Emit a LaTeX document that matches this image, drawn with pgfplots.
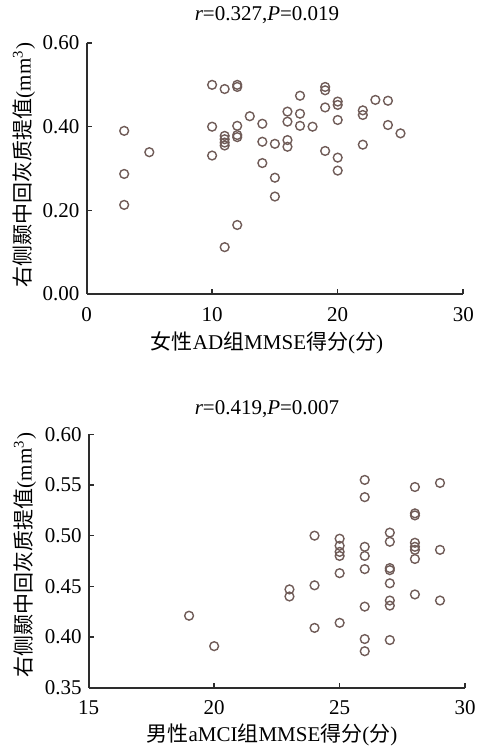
\documentclass[border=0pt]{standalone}
\usepackage{pgfplots}
\pgfplotsset{compat=1.18}
\usepackage{pgfplotstable}
\usepackage{fontspec}
\setmainfont{Liberation Serif}
\newfontfamily\cjk{Noto Sans CJK SC}
\definecolor{mk}{RGB}{112,92,88}
\definecolor{ax}{RGB}{45,45,45}
\pgfplotstableread{
x y
3 0.390
3 0.287
3 0.213
5 0.339
10 0.500
10 0.400
10 0.331
11 0.490
11 0.378
11 0.370
11 0.362
11 0.355
11 0.112
12 0.500
12 0.495
12 0.402
12 0.380
12 0.375
12 0.165
13 0.425
14 0.407
14 0.364
14 0.313
15 0.359
15 0.278
15 0.233
16 0.436
16 0.412
16 0.368
16 0.352
17 0.474
17 0.431
17 0.402
18 0.400
19 0.495
19 0.487
19 0.446
19 0.342
20 0.460
20 0.452
20 0.416
20 0.326
20 0.295
22 0.439
22 0.428
22 0.357
23 0.464
24 0.462
24 0.404
25 0.384
}\femaleAD
\pgfplotstableread{
x y
19 0.421
20 0.391
23 0.447
23 0.440
24 0.500
24 0.451
24 0.409
25 0.497
25 0.490
25 0.484
25 0.480
25 0.463
25 0.414
26 0.555
26 0.538
26 0.489
26 0.480
26 0.467
26 0.430
26 0.398
26 0.386
27 0.503
27 0.494
27 0.468
27 0.466
27 0.453
27 0.436
27 0.431
27 0.397
28 0.548
28 0.522
28 0.520
28 0.493
28 0.489
28 0.486
28 0.477
28 0.442
29 0.552
29 0.486
29 0.436
}\maleaMCI
\pgfplotsset{
  myax/.style={
    scale only axis,
    anchor=south west,
    axis lines=left,
    axis line style={-, line width=1pt, color=ax},
    tick align=inside,
    major tick length=2.6pt,
    tick style={line width=0.8pt, color=ax},
    tick label style={font=\fontsize{10.5}{12}\selectfont},
    /pgf/number format/assume math mode=true,
    yticklabel style={/pgf/number format/fixed, /pgf/number format/fixed zerofill, /pgf/number format/precision=2},
    xticklabel style={/pgf/number format/fixed, yshift=-3pt},
    clip=false,
  },
  mymk/.style={only marks, mark=o, mark size=2.2pt, mark options={line width=0.7pt, color=mk}},
}
\begin{document}
\begin{tikzpicture}[x=1pt,y=1pt]
\path[use as bounding box] (0pt,0pt) rectangle (238.5pt,373pt);
\begin{axis}[myax, at={(43.25pt,226pt)}, width=188.4pt, height=125.5pt,
  xmin=0, xmax=30, ymin=0, ymax=0.6,
  xtick={0,10,20,30}, ytick={0,0.2,0.4,0.6}]
\addplot[mymk] table[x=x,y=y] {\femaleAD};
\end{axis}
\begin{axis}[myax, at={(44.35pt,29.15pt)}, width=188.2pt, height=126.7pt,
  xmin=15, xmax=30, ymin=0.35, ymax=0.6,
  xtick={15,20,25,30}, ytick={0.35,0.40,0.45,0.50,0.55,0.60}]
\addplot[mymk] table[x=x,y=y] {\maleaMCI};
\end{axis}
\node[font=\fontsize{10.5}{12}\selectfont] at (133.5pt,365.5pt) {\textit{r}=0.327,\textit{P}=0.019};
\node[font=\fontsize{10.5}{12}\selectfont] at (133.5pt,201.5pt) {{\cjk 女性}AD{\cjk 组}MMSE{\cjk 得分}({\cjk 分})};
\node[font=\fontsize{10.5}{12}\selectfont, rotate=90] at (12pt,290.5pt) {{\cjk 右侧颞中回灰质提值}(mm\textsuperscript{3})};
\node[font=\fontsize{10.5}{12}\selectfont] at (133.5pt,168.5pt) {\textit{r}=0.419,\textit{P}=0.007};
\node[font=\fontsize{10.5}{12}\selectfont] at (136pt,5.5pt) {{\cjk 男性}aMCI{\cjk 组}MMSE{\cjk 得分}({\cjk 分})};
\node[font=\fontsize{10.5}{12}\selectfont, rotate=90] at (12.5pt,95.5pt) {{\cjk 右侧颞中回灰质提值}(mm\textsuperscript{3})};
\end{tikzpicture}
\end{document}
